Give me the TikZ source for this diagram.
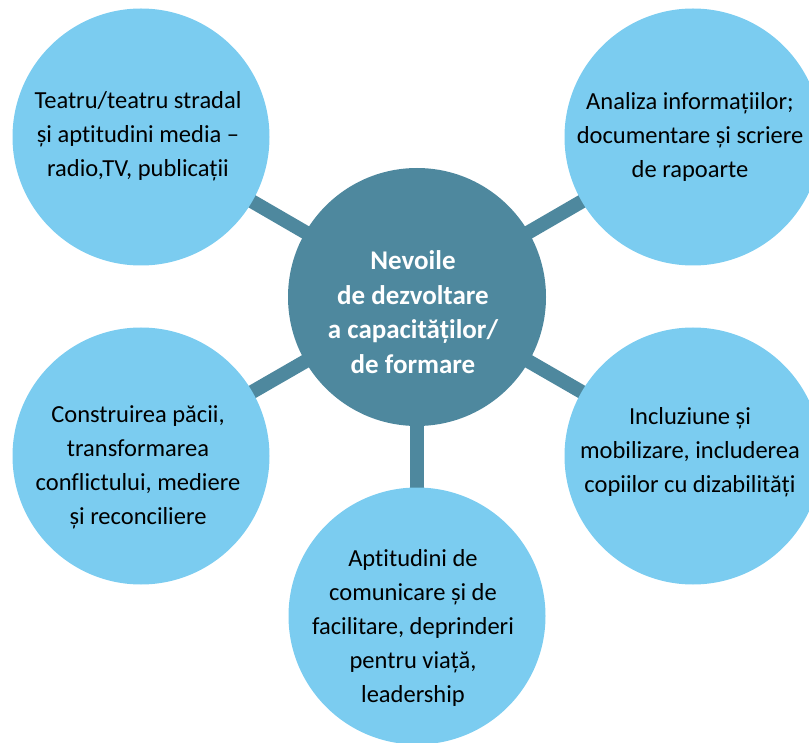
\documentclass[tikz,border=0pt]{standalone}
\usepackage{fontspec}
\setmainfont{Carlito}[Ligatures=NoCommon]
\usetikzlibrary{backgrounds}
\definecolor{hubblue}{HTML}{4E889E}
\definecolor{bubbleblue}{HTML}{7BCCF0}
\tikzset{
  bubble/.style={circle,fill=bubbleblue,minimum size=257pt,inner sep=0pt},
  hub/.style={circle,fill=hubblue,minimum size=258pt,inner sep=0pt},
  txt/.style={align=center,font=\fontsize{24.5}{34}\selectfont},
  hubtxt/.style={align=center,text=white,font=\fontsize{27}{34.5}\selectfont\bfseries},
  link/.style={hubblue,line width=14pt}
}
\begin{document}
\begin{tikzpicture}[x=1pt,y=-1pt]
   \useasboundingbox (0,0) rectangle (809,743);
   \node[hub] (hub) at (417,297) {};
   \node[bubble] (tl) at (141,137) {};
   \node[bubble] (tr) at (693,137) {};
   \node[bubble] (bl) at (141,456) {};
   \node[bubble] (br) at (693,456) {};
   \node[bubble] (bt) at (417,616) {};
   % spokes behind the circles
   \begin{pgfonlayer}{background}
   \draw[link] (hub.center)--(tl.center);
   \draw[link] (hub.center)--(tr.center);
   \draw[link] (hub.center)--(bl.center);
   \draw[link] (hub.center)--(br.center);
   \draw[link] (hub.center)--(bt.center);
   \end{pgfonlayer}
   \node[hubtxt] (hubtext) at (413,312) {Nevoile\\de dezvoltare\\a capacităților/\\de formare};
   \node[txt] (tltext) at (138,136) {Teatru/teatru stradal\\și aptitudini media –\\radio,TV, publicații};
   \node[txt] (trtext) at (690,137) {Analiza informațiilor;\\documentare și scriere\\de rapoarte};
   \node[txt] (bltext) at (138,467) {Construirea păcii,\\transformarea\\conflictului, mediere\\și reconciliere};
   \node[txt] (brtext) at (690,452) {Incluziune și\\mobilizare, includerea\\copiilor cu dizabilități};
   \node[txt] (bttext) at (413,628) {Aptitudini de\\comunicare și de\\facilitare, deprinderi\\pentru viață,\\leadership};
\end{tikzpicture}
\end{document}
